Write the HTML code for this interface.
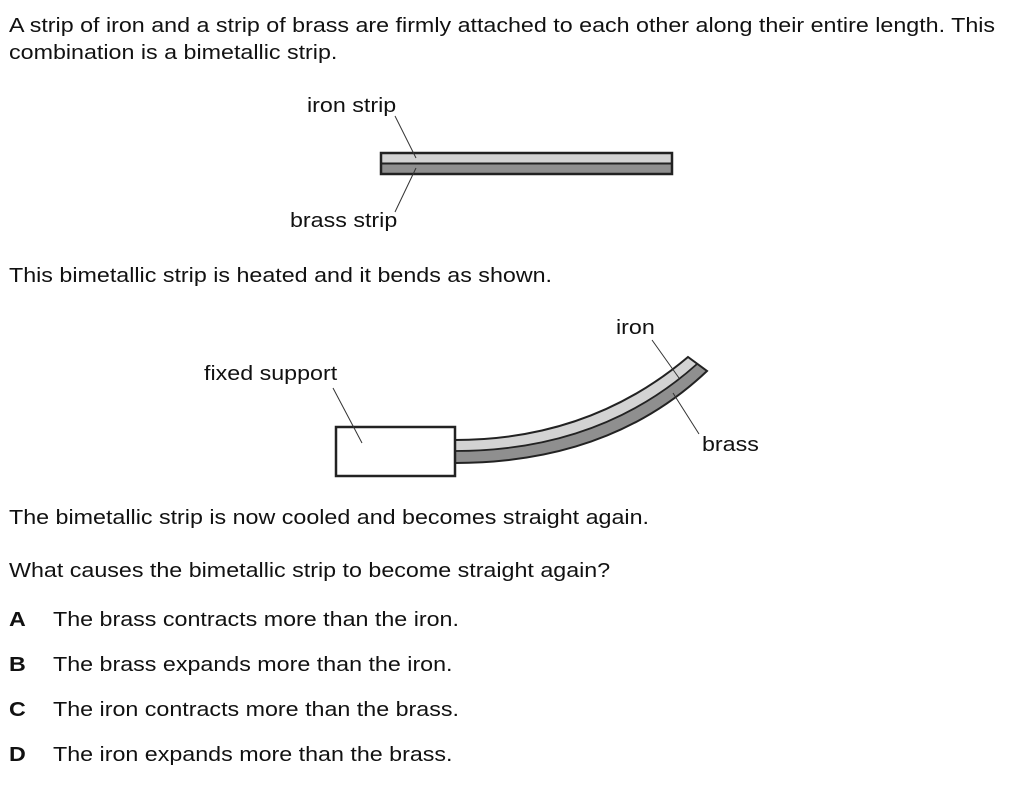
<!DOCTYPE html>
<html><head><style>
body{margin:0;background:#fff;width:1024px;height:805px;position:relative;font-family:"Liberation Sans",Arial,sans-serif;color:#111;overflow:hidden;}
.t{position:absolute;font-size:20px;line-height:24px;white-space:nowrap;transform:scaleX(1.163);transform-origin:0 0;}
.b{font-weight:bold;}
</style></head><body>
<div class="t" style="left:9px;top:14px">A strip of iron and a strip of brass are firmly attached to each other along their entire length. This</div>
<div class="t" style="left:9px;top:41px">combination is a bimetallic strip.</div>
<div class="t" style="left:307px;top:94px">iron strip</div>
<div class="t" style="left:290px;top:209px">brass strip</div>
<div class="t" style="left:9px;top:264px">This bimetallic strip is heated and it bends as shown.</div>
<div class="t" style="left:616px;top:316px">iron</div>
<div class="t" style="left:204px;top:362px">fixed support</div>
<div class="t" style="left:702px;top:433px">brass</div>
<div class="t" style="left:9px;top:506px">The bimetallic strip is now cooled and becomes straight again.</div>
<div class="t" style="left:9px;top:559px">What causes the bimetallic strip to become straight again?</div>
<div class="t b" style="left:9px;top:608px">A</div><div class="t" style="left:53px;top:608px">The brass contracts more than the iron.</div>
<div class="t b" style="left:9px;top:653px">B</div><div class="t" style="left:53px;top:653px">The brass expands more than the iron.</div>
<div class="t b" style="left:9px;top:698px">C</div><div class="t" style="left:53px;top:698px">The iron contracts more than the brass.</div>
<div class="t b" style="left:9px;top:743px">D</div><div class="t" style="left:53px;top:743px">The iron expands more than the brass.</div>
<svg width="1024" height="805" style="position:absolute;left:0;top:0">
<rect x="381" y="153" width="291" height="10" fill="#d3d3d3"/>
<rect x="381" y="163" width="291" height="11" fill="#8f8f8f"/>
<rect x="381" y="153" width="291" height="21" fill="none" stroke="#222" stroke-width="2.5"/>
<line x1="381" y1="163.5" x2="672" y2="163.5" stroke="#222" stroke-width="2"/>
<line x1="395" y1="116" x2="416" y2="158" stroke="#333" stroke-width="1"/>
<line x1="395" y1="212" x2="416" y2="168" stroke="#333" stroke-width="1"/>
<path d="M455,440 Q590,440 688,357 L697,364 Q600,451 455,451 Z" fill="#d3d3d3"/>
<path d="M455,451 Q600,451 697,364 L707,371 Q610,463 455,463 Z" fill="#8f8f8f"/>
<path d="M455,440 Q590,440 688,357 L707,371 Q610,463 455,463" fill="none" stroke="#222" stroke-width="2"/>
<path d="M455,451 Q600,451 697,364" fill="none" stroke="#222" stroke-width="1.8"/>
<rect x="336" y="427" width="119" height="49" fill="#fff" stroke="#222" stroke-width="2.5"/>
<line x1="333" y1="388" x2="362" y2="443" stroke="#333" stroke-width="1"/>
<line x1="652" y1="340" x2="679" y2="378" stroke="#333" stroke-width="1"/>
<line x1="699" y1="434" x2="673" y2="393" stroke="#333" stroke-width="1"/>
</svg>
</body></html>
